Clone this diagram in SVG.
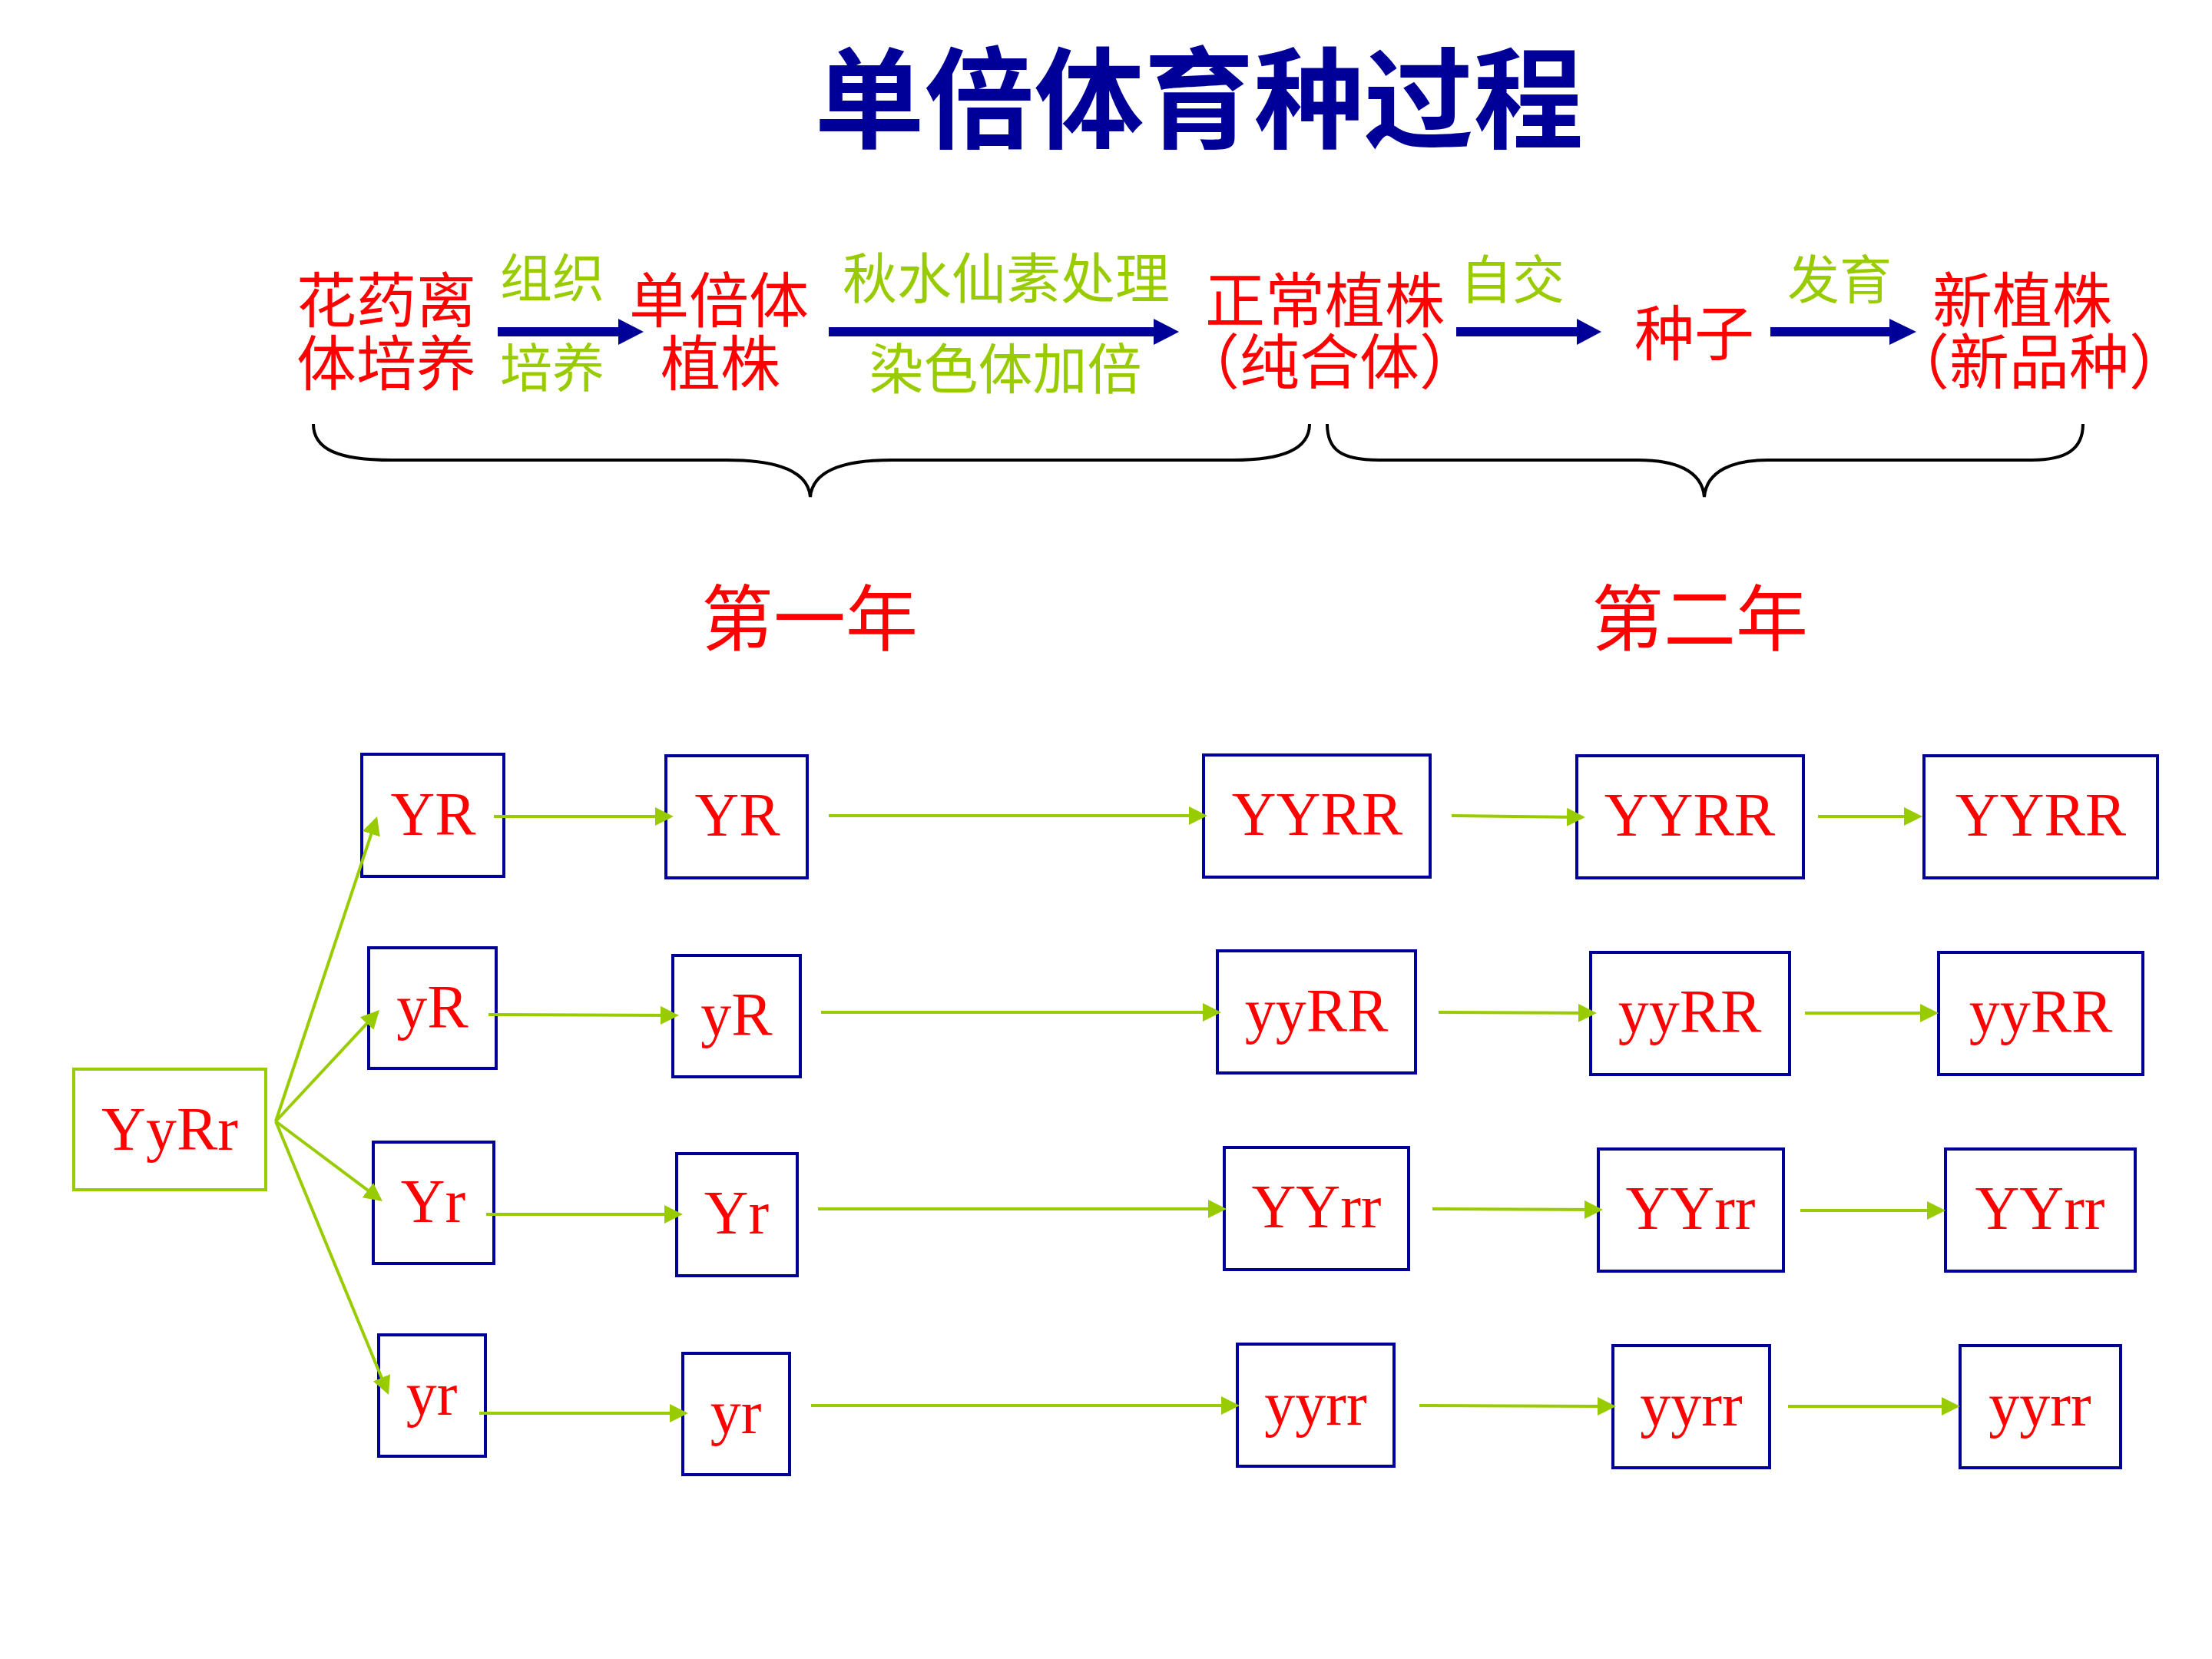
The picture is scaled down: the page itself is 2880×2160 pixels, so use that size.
<svg xmlns="http://www.w3.org/2000/svg" width="2880" height="2160" viewBox="0 0 2880 2160">
<style>
.cjk{font-family:"Noto Sans CJK SC","Noto Sans CJK TC",sans-serif;}
.red{fill:#FF0000;}
.grn{fill:#99CC00;}
.title{font-family:"Noto Sans CJK SC",sans-serif;font-weight:bold;font-size:143px;fill:#000099;}
.step{font-size:78px;}
.lab{font-size:68px;}
.year{font-size:94px;}
.gene{font-family:"Liberation Serif","Times New Roman",serif;font-size:80px;fill:#FF0000;text-anchor:middle;}
.box{fill:#FFFFFF;stroke:#000099;stroke-width:4;}
.pbox{fill:#FFFFFF;stroke:#99CC00;stroke-width:4;}
.gl{stroke:#99CC00;stroke-width:4;fill:none;marker-end:url(#ga);}
.brace{fill:none;stroke:#000000;stroke-width:4;}
.big{fill:#000099;}
</style>
<defs>
<marker id="ga" markerUnits="userSpaceOnUse" markerWidth="24" markerHeight="24" refX="20" refY="12" orient="auto">
<path d="M0,0 L24,12 L0,24 Z" fill="#99CC00"/>
</marker>
</defs>
<rect width="2880" height="2160" fill="#FFFFFF"/>

<g id="title"><text class="title" x="1561" y="182" text-anchor="middle">单倍体育种过程</text></g>

<g id="n-anther" class="cjk red step" text-anchor="middle">
<text x="503" y="420">花药离<tspan x="503" dy="82">体培养</tspan></text>
</g>
<g id="lab-tissue" class="cjk grn lab" text-anchor="middle">
<text x="719" y="387">组织<tspan x="719" dy="117">培养</tspan></text>
</g>
<g id="n-haploid" class="cjk red step" text-anchor="middle">
<text x="936" y="420">单倍体<tspan x="938" dy="82">植株</tspan></text>
</g>
<g id="lab-colch" class="cjk grn" text-anchor="middle" style="font-size:71px">
<text x="1310" y="388">秋水仙素处理<tspan x="1309" dy="118">染色体加倍</tspan></text>
</g>
<g id="n-normal" class="cjk red step" text-anchor="middle">
<text x="1725" y="420">正常植株<tspan x="1731" dy="80">（纯合体）</tspan></text>
</g>
<g id="lab-self" class="cjk grn lab" text-anchor="middle"><text x="1969" y="389">自交</text></g>
<g id="n-seed" class="cjk red step" text-anchor="middle"><text x="2206" y="463">种子</text></g>
<g id="lab-dev" class="cjk grn lab" text-anchor="middle"><text x="2395" y="389">发育</text></g>
<g id="n-new" class="cjk red step" text-anchor="middle">
<text x="2633" y="420">新植株<tspan x="2655" dy="80">（新品种）</tspan></text>
</g>

<g id="braces">
<path class="brace" d="M408,552 C408,585 440,599 510,599 L946,599 C1010,599 1052,612 1055,647 C1058,612 1100,599 1161,599 L1605,599 C1670,599 1705,585 1705,552"/>
<path class="brace" d="M1728,552 C1728,585 1745,599 1796,599 L2133,599 C2180,599 2216,612 2219,647 C2222,612 2258,599 2301,599 L2645,599 C2690,599 2712,585 2712,552"/>
</g>

<g id="years" class="cjk red year" text-anchor="middle">
<text x="1054" y="840">第一年</text>
<text x="2213" y="840">第二年</text>
</g>

<g id="n-YyRr"><rect class="pbox" x="96" y="1392" width="250" height="157"/><text class="gene" x="221" y="1497">YyRr</text></g>

<g id="r1c1"><rect class="box" x="471" y="982" width="185" height="159"/><text class="gene" x="564" y="1087">YR</text></g>
<g id="r1c2"><rect class="box" x="867" y="984" width="184" height="159"/><text class="gene" x="960" y="1088">YR</text></g>
<g id="r1c3"><rect class="box" x="1567" y="983" width="295" height="159"/><text class="gene" x="1715" y="1087">YYRR</text></g>
<g id="r1c4"><rect class="box" x="2053" y="984" width="295" height="159"/><text class="gene" x="2200" y="1088">YYRR</text></g>
<g id="r1c5"><rect class="box" x="2505" y="984" width="304" height="159"/><text class="gene" x="2657" y="1088">YYRR</text></g>

<g id="r2c1"><rect class="box" x="480" y="1234" width="166" height="157"/><text class="gene" x="563" y="1338">yR</text></g>
<g id="r2c2"><rect class="box" x="876" y="1244" width="166" height="158"/><text class="gene" x="959" y="1348">yR</text></g>
<g id="r2c3"><rect class="box" x="1585" y="1238" width="258" height="159"/><text class="gene" x="1714" y="1343">yyRR</text></g>
<g id="r2c4"><rect class="box" x="2071" y="1240" width="259" height="159"/><text class="gene" x="2200" y="1344">yyRR</text></g>
<g id="r2c5"><rect class="box" x="2524" y="1240" width="266" height="159"/><text class="gene" x="2657" y="1344">yyRR</text></g>

<g id="r3c1"><rect class="box" x="486" y="1487" width="157" height="158"/><text class="gene" x="564" y="1591">Yr</text></g>
<g id="r3c2"><rect class="box" x="881" y="1502" width="157" height="159"/><text class="gene" x="959" y="1606">Yr</text></g>
<g id="r3c3"><rect class="box" x="1594" y="1494" width="240" height="159"/><text class="gene" x="1714" y="1598">YYrr</text></g>
<g id="r3c4"><rect class="box" x="2081" y="1496" width="241" height="159"/><text class="gene" x="2201" y="1600">YYrr</text></g>
<g id="r3c5"><rect class="box" x="2533" y="1496" width="247" height="159"/><text class="gene" x="2656" y="1600">YYrr</text></g>

<g id="r4c1"><rect class="box" x="493" y="1738" width="139" height="158"/><text class="gene" x="562" y="1842">yr</text></g>
<g id="r4c2"><rect class="box" x="889" y="1762" width="139" height="158"/><text class="gene" x="958" y="1866">yr</text></g>
<g id="r4c3"><rect class="box" x="1611" y="1750" width="204" height="159"/><text class="gene" x="1713" y="1855">yyrr</text></g>
<g id="r4c4"><rect class="box" x="2100" y="1752" width="204" height="159"/><text class="gene" x="2202" y="1856">yyrr</text></g>
<g id="r4c5"><rect class="box" x="2552" y="1752" width="209" height="159"/><text class="gene" x="2656" y="1856">yyrr</text></g>

<g id="connectors">
<polygon class="big" points="648,426 805,426 805,415 838,432 805,449 805,438 648,438"/>
<polygon class="big" points="1079,426 1502,426 1502,415 1535,432 1502,449 1502,438 1079,438"/>
<polygon class="big" points="1896,426 2053,426 2053,415 2085,432 2053,449 2053,438 1896,438"/>
<polygon class="big" points="2305,426 2460,426 2460,415 2495,432 2460,449 2460,438 2305,438"/>

<line class="gl" x1="359" y1="1460" x2="489.7" y2="1066.8"/>
<line class="gl" x1="359" y1="1460" x2="491.3" y2="1317.9"/>
<line class="gl" x1="359" y1="1460" x2="494.8" y2="1561.6"/>
<line class="gl" x1="359" y1="1460" x2="504.5" y2="1812.3"/>

<line class="gl" x1="643" y1="1063" x2="873" y2="1063"/>
<line class="gl" x1="1079" y1="1062" x2="1568" y2="1062"/>
<line class="gl" x1="1890" y1="1062" x2="2060" y2="1064"/>
<line class="gl" x1="2367" y1="1063" x2="2499" y2="1063"/>

<line class="gl" x1="636" y1="1321" x2="880" y2="1322"/>
<line class="gl" x1="1069" y1="1318" x2="1586" y2="1318"/>
<line class="gl" x1="1873" y1="1318" x2="2075" y2="1319"/>
<line class="gl" x1="2350" y1="1319" x2="2520" y2="1319"/>

<line class="gl" x1="633" y1="1581" x2="885" y2="1581"/>
<line class="gl" x1="1065" y1="1574" x2="1593" y2="1574"/>
<line class="gl" x1="1865" y1="1574" x2="2083" y2="1575"/>
<line class="gl" x1="2344" y1="1576" x2="2529" y2="1576"/>

<line class="gl" x1="624" y1="1840" x2="892" y2="1840"/>
<line class="gl" x1="1056" y1="1830" x2="1610" y2="1830"/>
<line class="gl" x1="1848" y1="1830" x2="2100" y2="1831"/>
<line class="gl" x1="2328" y1="1831" x2="2548" y2="1831"/>
</g>
</svg>
